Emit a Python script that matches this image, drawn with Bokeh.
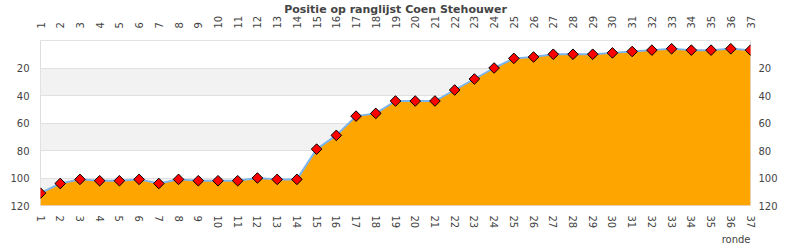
import math
from bokeh.plotting import figure
from bokeh.models import Range1d, LinearAxis, FixedTicker, Title, ColumnDataSource
from bokeh.embed import file_html
from bokeh.resources import INLINE

rounds = list(range(1, 38))
positions = [111, 104, 101, 102, 102, 101, 104, 101, 102, 102,
             102, 100, 101, 101, 79, 69, 55, 53, 44, 44,
             44, 36, 28, 20, 13, 12, 10, 10, 10, 9,
             8, 7, 6, 7, 7, 6, 7]
y_ticks = [-20, 0, 20, 40, 60, 80, 100, 120]
title_text = "Positie op ranglijst Coen Stehouwer"
x_label = "ronde"
y_bottom = 120

src = ColumnDataSource(dict(x=rounds, y=positions, base=[y_bottom] * len(rounds)))

p = figure(width=790, height=250, output_backend="svg", toolbar_location=None,
           x_range=Range1d(1, 37), y_range=Range1d(120, 0),
           min_border_left=40, min_border_right=40, min_border_top=40, min_border_bottom=45,
           x_axis_location=None, y_axis_location=None)
p.background_fill_color = "white"
p.border_fill_color = "white"
p.outline_line_color = "#dddddd"
p.outline_line_width = 1

FONT = "DejaVu Sans"
LBL = "#444444"

def style(ax, standoff):
    ax.axis_line_color = None
    ax.major_tick_line_color = None
    ax.minor_tick_line_color = None
    ax.major_tick_out = 0
    ax.major_tick_in = 0
    ax.major_label_standoff = standoff
    ax.major_label_text_font = FONT
    ax.major_label_text_font_size = "10px"
    ax.major_label_text_color = LBL

xt = FixedTicker(ticks=rounds)
for loc, so in (("below", 10), ("above", 12)):
    ax = LinearAxis(ticker=xt)
    style(ax, so)
    ax.major_label_orientation = "vertical"
    p.add_layout(ax, loc)

yt = FixedTicker(ticks=y_ticks)
for loc, so in (("left", 11), ("right", 8)):
    ax = LinearAxis(ticker=yt)
    style(ax, so)
    ax.major_label_overrides = {0: "", -20: ""}
    p.add_layout(ax, loc)

p.xgrid.visible = False
p.ygrid.ticker = yt
p.ygrid.grid_line_color = "#e0e0e0"
p.ygrid.band_fill_color = "#f2f2f2"
p.ygrid.band_fill_alpha = 1.0

p.varea(x="x", y1="y", y2="base", source=src, fill_color="#FFA500")
p.line(x="x", y="y", source=src, line_color="#7cb5ec", line_width=2)
p.scatter(x="x", y="y", source=src, marker="square", angle=math.pi / 4, size=7.5,
          fill_color="#ff0000", line_color="black", line_width=1)

p.add_layout(Title(text=title_text, align="center", text_font=FONT, text_font_size="11px",
                   text_font_style="bold", text_color="#444444", standoff=-6), "above")
p.add_layout(Title(text=x_label, align="right", text_font=FONT, text_font_size="10px",
                   text_font_style="normal", text_color=LBL, standoff=0), "below")

open("out.html", "w").write(file_html(p, INLINE))
